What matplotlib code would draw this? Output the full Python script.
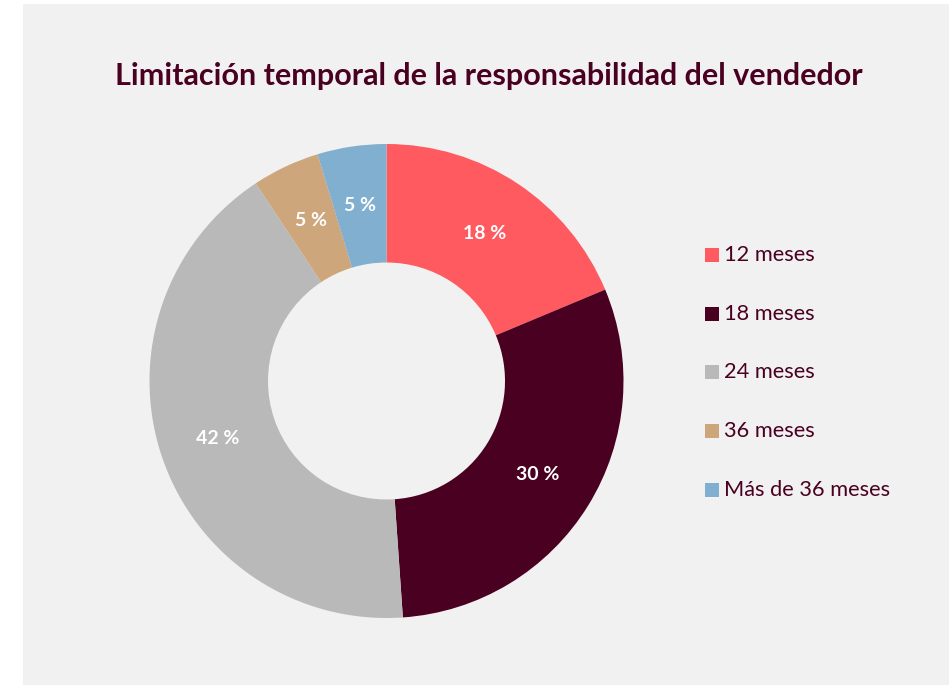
import numpy as np
import matplotlib
matplotlib.use("Agg")
import matplotlib.pyplot as plt
from matplotlib.patches import Rectangle

# data
categorias = ["12 meses", "18 meses", "24 meses", "36 meses", "Más de 36 meses"]
porcentajes = [18, 30, 42, 5, 5]                 # printed labels
tamanos = [18.7, 30.2, 41.8, 4.6, 4.7]           # wedge sizes as drawn
colores = ["#ff5a60", "#4a0020", "#b9b9b9", "#cda67b", "#80afcf"]

granate = "#4a0020"
fondo = "#f1f1f1"

plt.rcParams["font.family"] = ["Lato", "DejaVu Sans"]

W, H = 949, 685
fig = plt.figure(figsize=(W / 100, H / 100), dpi=100, facecolor="white")

# grey panel
fig.patches.append(Rectangle((23 / W, 0), 1 - 23 / W, (H - 4) / H,
                             transform=fig.transFigure, facecolor=fondo,
                             edgecolor="none", zorder=-5))

fig.text(489 / W, 1 - 76 / H, "Limitación temporal de la responsabilidad del vendedor",
         ha="center", va="center", fontsize=22, fontweight="bold", color=granate)

# donut
cx, cy, r = 386.5, 381, 237
ax = fig.add_axes([(cx - r) / W, (H - cy - r) / H, 2 * r / W, 2 * r / H])
ax.set_facecolor("none")
ax.pie(tamanos, colors=colores, startangle=90, counterclock=False,
       radius=1, wedgeprops=dict(width=0.5, edgecolor="none"))
ax.set_xlim(-1, 1)
ax.set_ylim(-1, 1)
ax.set_aspect("equal")
ax.axis("off")

# percentage labels in the middle of each wedge
acum = np.cumsum([0] + tamanos) / sum(tamanos)
for i, p in enumerate(porcentajes):
    medio = (acum[i] + acum[i + 1]) / 2 * 2 * np.pi
    ang = np.pi / 2 - medio
    ax.text(0.75 * np.cos(ang), 0.75 * np.sin(ang), f"{p} %",
            ha="center", va="center", fontsize=14, fontweight="bold", color="white")

# legend
y0, paso = 255, 58.7
for i, (cat, col) in enumerate(zip(categorias, colores)):
    y = y0 + i * paso
    fig.patches.append(Rectangle((705 / W, 1 - (y + 7) / H), 14 / W, 14 / H,
                                 transform=fig.transFigure, facecolor=col,
                                 edgecolor="none"))
    fig.text(724 / W, 1 - y / H, cat, ha="left", va="center",
             fontsize=15.7, color=granate)

fig.savefig("out.png", dpi=100, facecolor=fig.get_facecolor())
